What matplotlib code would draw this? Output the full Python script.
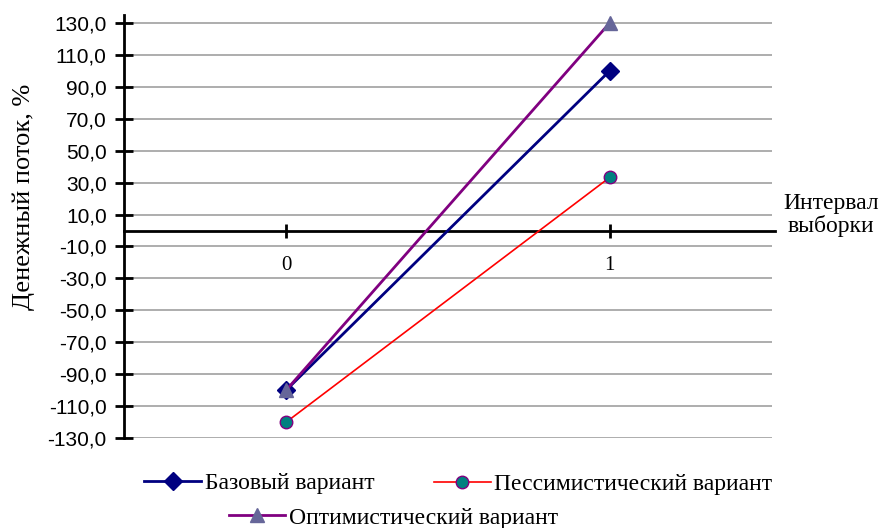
import matplotlib.pyplot as plt
from matplotlib.ticker import FuncFormatter

# cash flow scenarios by sampling interval
intervals = [0, 1]
base = [-100.0, 100.0]
pessimistic = [-120.0, 33.3]
optimistic = [-100.0, 130.0]
y_ticks = list(range(-130, 131, 20))

serif = 'Liberation Serif'
sans = 'Liberation Sans'

fig = plt.figure(figsize=(8.8, 5.28), dpi=100)
ax = fig.add_axes([0.141, 0.17, 0.736, 0.802])

ax.plot(intervals, base, color='#000080', lw=2, marker='D', ms=9,
        mfc='#000080', mec='#000080', label='Базовый вариант', zorder=3)
ax.plot(intervals, pessimistic, color='#ff0000', lw=1.2, marker='o', ms=9,
        mfc='#008080', mec='#800080', label='Пессимистический вариант', zorder=3)
ax.plot(intervals, optimistic, color='#800080', lw=2, marker='^', ms=10,
        mfc='#666699', mec='#666699', label='Оптимистический вариант', zorder=4)

ax.set_xlim(-0.5, 1.5)
ax.set_ylim(-130, 135)
ax.set_yticks(y_ticks)
ax.yaxis.set_major_formatter(FuncFormatter(lambda v, p: f'{v:.1f}'.replace('.', ',')))
ax.grid(axis='y', color='#a0a0a0', lw=1.2)
ax.set_axisbelow(True)

for s in ['top', 'right']:
    ax.spines[s].set_visible(False)
ax.spines['left'].set_linewidth(2)
ax.spines['bottom'].set_position(('data', 0))
ax.spines['bottom'].set_linewidth(2)
ax.spines['bottom'].set_bounds(-0.5, 1.51)

ax.set_xticks(intervals)
ax.set_xticklabels([str(i) for i in intervals], fontfamily=serif, fontsize=15)
ax.tick_params(axis='x', direction='inout', length=10, width=2, pad=13)
ax.tick_params(axis='y', direction='inout', length=13, width=2, labelsize=15, pad=6)
for lab in ax.get_yticklabels():
    lab.set_fontfamily(sans)

ax.set_ylabel('Денежный поток, %', fontfamily=serif, fontsize=19)
ax.yaxis.set_label_coords(-0.138, 0.57)
fig.text(0.944, 0.593, 'Интервал\nвыборки', fontfamily=serif, fontsize=17,
         ha='center', va='center', linespacing=1.1)

# legend entries placed one by one, two on the first row, one below
handles, labels = ax.get_legend_handles_labels()
anchors = [(0.164, 0.085), (0.493, 0.083), (0.26, 0.019)]
for h, l, pos in zip(handles, labels, anchors):
    fig.legend([h], [l], loc='center left', bbox_to_anchor=pos, frameon=False,
               prop={'family': serif, 'size': 17}, handlelength=2.4,
               handletextpad=0.15, borderpad=0, borderaxespad=0)

fig.savefig('out.png', dpi=100)
